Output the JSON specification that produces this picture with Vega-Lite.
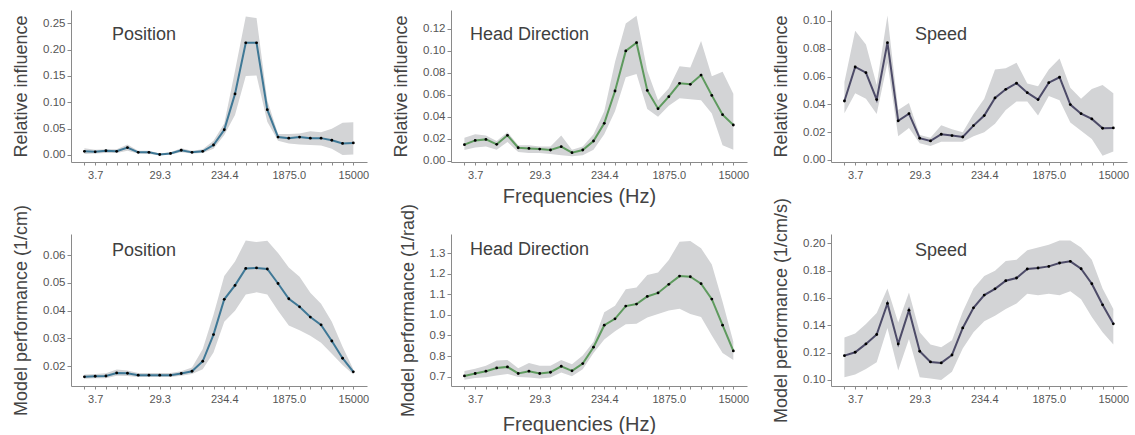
{
  "$schema": "https://vega.github.io/schema/vega-lite/v6.json",
  "padding": {"left": 12, "top": 10, "right": 0, "bottom": 0},
  "background": "white",
  "config": {
    "view": {"stroke": null},
    "font": "Liberation Sans",
    "axis": {"grid": false, "domainColor": "#8a8a8a", "tickColor": "#8a8a8a", "labelColor": "#555555", "labelFontSize": 11.5, "titleFontWeight": "normal", "titleColor": "#444444", "titleFontSize": 18, "tickSize": 4, "labelPadding": 2, "labelOverlap": false},
    "title": {"fontSize": 18, "fontWeight": "normal", "color": "#404040", "anchor": "start", "frame": "group", "offset": 0, "baseline": "alphabetic"}
  },
  "datasets": {
    "p1": [
      {"f": 2.589, "m": 0.007, "lo": 0.002, "hi": 0.013},
      {"f": 3.662109375, "m": 0.006, "lo": 0.003, "hi": 0.010},
      {"f": 5.179, "m": 0.008, "lo": 0.004, "hi": 0.011},
      {"f": 7.32421875, "m": 0.007, "lo": 0.004, "hi": 0.011},
      {"f": 10.358, "m": 0.014, "lo": 0.008, "hi": 0.020},
      {"f": 14.6484375, "m": 0.005, "lo": 0.003, "hi": 0.008},
      {"f": 20.716, "m": 0.005, "lo": 0.002, "hi": 0.008},
      {"f": 29.296875, "m": 0.001, "lo": 0.000, "hi": 0.003},
      {"f": 41.432, "m": 0.003, "lo": 0.001, "hi": 0.005},
      {"f": 58.59375, "m": 0.009, "lo": 0.005, "hi": 0.013},
      {"f": 82.864, "m": 0.005, "lo": 0.003, "hi": 0.008},
      {"f": 117.1875, "m": 0.007, "lo": 0.004, "hi": 0.011},
      {"f": 165.728, "m": 0.019, "lo": 0.012, "hi": 0.027},
      {"f": 234.375, "m": 0.048, "lo": 0.038, "hi": 0.060},
      {"f": 331.456, "m": 0.116, "lo": 0.076, "hi": 0.160},
      {"f": 468.75, "m": 0.213, "lo": 0.150, "hi": 0.263},
      {"f": 662.913, "m": 0.213, "lo": 0.151, "hi": 0.260},
      {"f": 937.5, "m": 0.086, "lo": 0.063, "hi": 0.104},
      {"f": 1325.825, "m": 0.034, "lo": 0.027, "hi": 0.040},
      {"f": 1875, "m": 0.032, "lo": 0.022, "hi": 0.040},
      {"f": 2651.65, "m": 0.034, "lo": 0.020, "hi": 0.041},
      {"f": 3750, "m": 0.032, "lo": 0.019, "hi": 0.045},
      {"f": 5303.301, "m": 0.032, "lo": 0.018, "hi": 0.043},
      {"f": 7500, "m": 0.028, "lo": 0.012, "hi": 0.050},
      {"f": 10606.602, "m": 0.022, "lo": 0.000, "hi": 0.061},
      {"f": 15000, "m": 0.023, "lo": 0.001, "hi": 0.062}
    ],
    "p2": [
      {"f": 2.589, "m": 0.0146, "lo": 0.0097, "hi": 0.021},
      {"f": 3.662109375, "m": 0.0185, "lo": 0.012, "hi": 0.024},
      {"f": 5.179, "m": 0.0194, "lo": 0.013, "hi": 0.023},
      {"f": 7.32421875, "m": 0.0149, "lo": 0.010, "hi": 0.018},
      {"f": 10.358, "m": 0.0231, "lo": 0.017, "hi": 0.026},
      {"f": 14.6484375, "m": 0.0118, "lo": 0.008, "hi": 0.014},
      {"f": 20.716, "m": 0.0112, "lo": 0.007, "hi": 0.014},
      {"f": 29.296875, "m": 0.0106, "lo": 0.007, "hi": 0.013},
      {"f": 41.432, "m": 0.0097, "lo": 0.006, "hi": 0.013},
      {"f": 58.59375, "m": 0.0128, "lo": 0.005, "hi": 0.023},
      {"f": 82.864, "m": 0.0073, "lo": 0.004, "hi": 0.010},
      {"f": 117.1875, "m": 0.0097, "lo": 0.005, "hi": 0.013},
      {"f": 165.728, "m": 0.0179, "lo": 0.010, "hi": 0.024},
      {"f": 234.375, "m": 0.034, "lo": 0.024, "hi": 0.045},
      {"f": 331.456, "m": 0.0635, "lo": 0.045, "hi": 0.090},
      {"f": 468.75, "m": 0.100, "lo": 0.076, "hi": 0.125},
      {"f": 662.913, "m": 0.1075, "lo": 0.079, "hi": 0.132},
      {"f": 937.5, "m": 0.064, "lo": 0.047, "hi": 0.082},
      {"f": 1325.825, "m": 0.0474, "lo": 0.040, "hi": 0.055},
      {"f": 1875, "m": 0.0583, "lo": 0.050, "hi": 0.066},
      {"f": 2651.65, "m": 0.0705, "lo": 0.057, "hi": 0.086},
      {"f": 3750, "m": 0.0696, "lo": 0.056, "hi": 0.085},
      {"f": 5303.301, "m": 0.078, "lo": 0.055, "hi": 0.109},
      {"f": 7500, "m": 0.0595, "lo": 0.043, "hi": 0.077},
      {"f": 10606.602, "m": 0.0419, "lo": 0.014, "hi": 0.081},
      {"f": 15000, "m": 0.0325, "lo": 0.010, "hi": 0.061}
    ],
    "p3": [
      {"f": 2.589, "m": 0.0424, "lo": 0.0336, "hi": 0.056},
      {"f": 3.662109375, "m": 0.0669, "lo": 0.048, "hi": 0.093},
      {"f": 5.179, "m": 0.0628, "lo": 0.044, "hi": 0.083},
      {"f": 7.32421875, "m": 0.0434, "lo": 0.033, "hi": 0.054},
      {"f": 10.358, "m": 0.0844, "lo": 0.070, "hi": 0.104},
      {"f": 14.6484375, "m": 0.0281, "lo": 0.017, "hi": 0.036},
      {"f": 20.716, "m": 0.0333, "lo": 0.023, "hi": 0.041},
      {"f": 29.296875, "m": 0.0156, "lo": 0.012, "hi": 0.018},
      {"f": 41.432, "m": 0.0137, "lo": 0.010, "hi": 0.016},
      {"f": 58.59375, "m": 0.0185, "lo": 0.013, "hi": 0.025},
      {"f": 82.864, "m": 0.0175, "lo": 0.013, "hi": 0.022},
      {"f": 117.1875, "m": 0.0165, "lo": 0.013, "hi": 0.020},
      {"f": 165.728, "m": 0.0247, "lo": 0.017, "hi": 0.033},
      {"f": 234.375, "m": 0.0319, "lo": 0.020, "hi": 0.044},
      {"f": 331.456, "m": 0.0446, "lo": 0.026, "hi": 0.065},
      {"f": 468.75, "m": 0.0508, "lo": 0.036, "hi": 0.066},
      {"f": 662.913, "m": 0.0552, "lo": 0.042, "hi": 0.070},
      {"f": 937.5, "m": 0.0484, "lo": 0.042, "hi": 0.055},
      {"f": 1325.825, "m": 0.0434, "lo": 0.032, "hi": 0.053},
      {"f": 1875, "m": 0.0556, "lo": 0.046, "hi": 0.065},
      {"f": 2651.65, "m": 0.0595, "lo": 0.043, "hi": 0.073},
      {"f": 3750, "m": 0.0398, "lo": 0.027, "hi": 0.052},
      {"f": 5303.301, "m": 0.0333, "lo": 0.021, "hi": 0.044},
      {"f": 7500, "m": 0.0295, "lo": 0.015, "hi": 0.051},
      {"f": 10606.602, "m": 0.0228, "lo": 0.003, "hi": 0.054},
      {"f": 15000, "m": 0.023, "lo": 0.006, "hi": 0.048}
    ],
    "p4": [
      {"f": 2.589, "m": 0.0162, "lo": 0.0155, "hi": 0.0170},
      {"f": 3.662109375, "m": 0.0164, "lo": 0.0157, "hi": 0.0172},
      {"f": 5.179, "m": 0.0165, "lo": 0.0157, "hi": 0.0175},
      {"f": 7.32421875, "m": 0.0176, "lo": 0.0166, "hi": 0.0188},
      {"f": 10.358, "m": 0.0175, "lo": 0.0165, "hi": 0.0185},
      {"f": 14.6484375, "m": 0.0168, "lo": 0.0161, "hi": 0.0176},
      {"f": 20.716, "m": 0.0168, "lo": 0.0161, "hi": 0.0176},
      {"f": 29.296875, "m": 0.0168, "lo": 0.0161, "hi": 0.0176},
      {"f": 41.432, "m": 0.0168, "lo": 0.0161, "hi": 0.0176},
      {"f": 58.59375, "m": 0.0174, "lo": 0.0166, "hi": 0.0182},
      {"f": 82.864, "m": 0.0182, "lo": 0.0172, "hi": 0.0196},
      {"f": 117.1875, "m": 0.0218, "lo": 0.0189, "hi": 0.0262},
      {"f": 165.728, "m": 0.0314, "lo": 0.0250, "hi": 0.0385},
      {"f": 234.375, "m": 0.0441, "lo": 0.0360, "hi": 0.0525},
      {"f": 331.456, "m": 0.0491, "lo": 0.0400, "hi": 0.0577},
      {"f": 468.75, "m": 0.0552, "lo": 0.0458, "hi": 0.0653},
      {"f": 662.913, "m": 0.0554, "lo": 0.0466, "hi": 0.0647},
      {"f": 937.5, "m": 0.0550, "lo": 0.0458, "hi": 0.0652},
      {"f": 1325.825, "m": 0.0498, "lo": 0.0400, "hi": 0.0608},
      {"f": 1875, "m": 0.0443, "lo": 0.0347, "hi": 0.0555},
      {"f": 2651.65, "m": 0.0414, "lo": 0.0330, "hi": 0.0522},
      {"f": 3750, "m": 0.0377, "lo": 0.0310, "hi": 0.0465},
      {"f": 5303.301, "m": 0.0349, "lo": 0.0285, "hi": 0.0425},
      {"f": 7500, "m": 0.0291, "lo": 0.0245, "hi": 0.0360},
      {"f": 10606.602, "m": 0.0229, "lo": 0.0205, "hi": 0.0270},
      {"f": 15000, "m": 0.0180, "lo": 0.0170, "hi": 0.0189}
    ],
    "p5": [
      {"f": 2.589, "m": 0.703, "lo": 0.685, "hi": 0.727},
      {"f": 3.662109375, "m": 0.715, "lo": 0.693, "hi": 0.738},
      {"f": 5.179, "m": 0.726, "lo": 0.697, "hi": 0.752},
      {"f": 7.32421875, "m": 0.742, "lo": 0.705, "hi": 0.778},
      {"f": 10.358, "m": 0.747, "lo": 0.713, "hi": 0.781},
      {"f": 14.6484375, "m": 0.715, "lo": 0.698, "hi": 0.740},
      {"f": 20.716, "m": 0.726, "lo": 0.695, "hi": 0.766},
      {"f": 29.296875, "m": 0.715, "lo": 0.690, "hi": 0.752},
      {"f": 41.432, "m": 0.721, "lo": 0.695, "hi": 0.752},
      {"f": 58.59375, "m": 0.750, "lo": 0.720, "hi": 0.780},
      {"f": 82.864, "m": 0.728, "lo": 0.702, "hi": 0.760},
      {"f": 117.1875, "m": 0.763, "lo": 0.735, "hi": 0.803},
      {"f": 165.728, "m": 0.843, "lo": 0.815, "hi": 0.870},
      {"f": 234.375, "m": 0.950, "lo": 0.880, "hi": 1.013},
      {"f": 331.456, "m": 0.981, "lo": 0.920, "hi": 1.045},
      {"f": 468.75, "m": 1.043, "lo": 0.955, "hi": 1.125},
      {"f": 662.913, "m": 1.053, "lo": 0.957, "hi": 1.133},
      {"f": 937.5, "m": 1.090, "lo": 0.987, "hi": 1.194},
      {"f": 1325.825, "m": 1.107, "lo": 1.005, "hi": 1.207},
      {"f": 1875, "m": 1.149, "lo": 1.022, "hi": 1.268},
      {"f": 2651.65, "m": 1.189, "lo": 1.030, "hi": 1.356},
      {"f": 3750, "m": 1.186, "lo": 1.005, "hi": 1.360},
      {"f": 5303.301, "m": 1.152, "lo": 0.990, "hi": 1.325},
      {"f": 7500, "m": 1.077, "lo": 0.900, "hi": 1.245},
      {"f": 10606.602, "m": 0.950, "lo": 0.815, "hi": 1.064},
      {"f": 15000, "m": 0.825, "lo": 0.780, "hi": 0.870}
    ],
    "p6": [
      {"f": 2.589, "m": 0.1178, "lo": 0.102, "hi": 0.131},
      {"f": 3.662109375, "m": 0.1203, "lo": 0.104, "hi": 0.134},
      {"f": 5.179, "m": 0.1264, "lo": 0.108, "hi": 0.141},
      {"f": 7.32421875, "m": 0.1333, "lo": 0.113, "hi": 0.149},
      {"f": 10.358, "m": 0.156, "lo": 0.138, "hi": 0.167},
      {"f": 14.6484375, "m": 0.1264, "lo": 0.107, "hi": 0.142},
      {"f": 20.716, "m": 0.1511, "lo": 0.130, "hi": 0.164},
      {"f": 29.296875, "m": 0.121, "lo": 0.102, "hi": 0.135},
      {"f": 41.432, "m": 0.1132, "lo": 0.101, "hi": 0.126},
      {"f": 58.59375, "m": 0.1125, "lo": 0.100, "hi": 0.124},
      {"f": 82.864, "m": 0.1183, "lo": 0.106, "hi": 0.129},
      {"f": 117.1875, "m": 0.1381, "lo": 0.123, "hi": 0.150},
      {"f": 165.728, "m": 0.1528, "lo": 0.135, "hi": 0.167},
      {"f": 234.375, "m": 0.1621, "lo": 0.143, "hi": 0.176},
      {"f": 331.456, "m": 0.1667, "lo": 0.147, "hi": 0.180},
      {"f": 468.75, "m": 0.1726, "lo": 0.152, "hi": 0.187},
      {"f": 662.913, "m": 0.1746, "lo": 0.156, "hi": 0.188},
      {"f": 937.5, "m": 0.1812, "lo": 0.163, "hi": 0.195},
      {"f": 1325.825, "m": 0.1819, "lo": 0.162, "hi": 0.197},
      {"f": 1875, "m": 0.1831, "lo": 0.163, "hi": 0.199},
      {"f": 2651.65, "m": 0.1856, "lo": 0.162, "hi": 0.202},
      {"f": 3750, "m": 0.1868, "lo": 0.165, "hi": 0.202},
      {"f": 5303.301, "m": 0.1814, "lo": 0.159, "hi": 0.197},
      {"f": 7500, "m": 0.1704, "lo": 0.146, "hi": 0.188},
      {"f": 10606.602, "m": 0.155, "lo": 0.135, "hi": 0.167},
      {"f": 15000, "m": 0.1411, "lo": 0.126, "hi": 0.152}
    ]
  },
  "columns": 3,
  "spacing": {"row": 72, "column": 84},
  "bounds": "flush",
  "concat": [
    {
      "width": 296, "height": 152,
      "data": {"name": "p1"},
      "title": {"text": "Position", "dx": 41, "dy": 37.5},
      "encoding": {"x": {"field": "f", "type": "quantitative", "scale": {"type": "log", "domain": [1.68, 23300], "nice": false},
        "axis": {"title": null, "values": [2.589, 3.662109375, 5.179, 7.32421875, 10.358, 14.6484375, 20.716, 29.296875, 41.432, 58.59375, 82.864, 117.1875, 165.728, 234.375, 331.456, 468.75, 662.913, 937.5, 1325.825, 1875, 2651.65, 3750, 5303.301, 7500, 10606.602, 15000],
          "labelExpr": "datum.value >= 15000 ? '15000' : (abs(log(15000/datum.value)/log(8) - round(log(15000/datum.value)/log(8))) < 0.001 ? format(datum.value, '.1f') : '')",
          "labelFlush": false, "tickSize": 3, "labelFontSize": 11, "labelPadding": 4}}},
      "layer": [
        {"mark": {"type": "area", "color": "#d3d4d6", "opacity": 1},
         "encoding": {"y": {"field": "lo", "type": "quantitative", "title": "Relative influence", "scale": {"domain": [-0.0133, 0.2753], "nice": false, "zero": false},
           "axis": {"values": [0, 0.05, 0.1, 0.15, 0.2, 0.25], "format": ".2f", "titlePadding": 12}}, "y2": {"field": "hi"}}},
        {"mark": {"type": "line", "color": "#3f7896", "strokeWidth": 2},
         "encoding": {"y": {"field": "m", "type": "quantitative", "title": "Relative influence", "scale": {"domain": [-0.0133, 0.2753], "nice": false, "zero": false},
           "axis": {"values": [0, 0.05, 0.1, 0.15, 0.2, 0.25], "format": ".2f", "titlePadding": 12}}}},
        {"mark": {"type": "point", "filled": true, "color": "black", "size": 8, "opacity": 1},
         "encoding": {"y": {"field": "m", "type": "quantitative", "title": "Relative influence", "scale": {"domain": [-0.0133, 0.2753], "nice": false, "zero": false},
           "axis": {"values": [0, 0.05, 0.1, 0.15, 0.2, 0.25], "format": ".2f", "titlePadding": 12}}}}
      ]
    },
    {
      "width": 296, "height": 152,
      "data": {"name": "p2"},
      "title": {"text": "Head Direction", "dx": 19, "dy": 37.5},
      "encoding": {"x": {"field": "f", "type": "quantitative", "scale": {"type": "log", "domain": [1.68, 23300], "nice": false},
        "axis": {"title": "Frequencies (Hz)", "titleFontSize": 20, "titleX": 128, "titleY": 34, "titleBaseline": "middle", "values": [2.589, 3.662109375, 5.179, 7.32421875, 10.358, 14.6484375, 20.716, 29.296875, 41.432, 58.59375, 82.864, 117.1875, 165.728, 234.375, 331.456, 468.75, 662.913, 937.5, 1325.825, 1875, 2651.65, 3750, 5303.301, 7500, 10606.602, 15000],
          "labelExpr": "datum.value >= 15000 ? '15000' : (abs(log(15000/datum.value)/log(8) - round(log(15000/datum.value)/log(8))) < 0.001 ? format(datum.value, '.1f') : '')",
          "labelFlush": false, "tickSize": 3, "labelFontSize": 11, "labelPadding": 4}}},
      "layer": [
        {"mark": {"type": "area", "color": "#d3d4d6", "opacity": 1},
         "encoding": {"y": {"field": "lo", "type": "quantitative", "title": "Relative influence", "scale": {"domain": [-0.0012, 0.1373], "nice": false, "zero": false},
           "axis": {"values": [0, 0.02, 0.04, 0.06, 0.08, 0.1, 0.12], "format": ".2f", "titlePadding": 12}}, "y2": {"field": "hi"}}},
        {"mark": {"type": "line", "color": "#5e9a5e", "strokeWidth": 2},
         "encoding": {"y": {"field": "m", "type": "quantitative", "title": "Relative influence", "scale": {"domain": [-0.0012, 0.1373], "nice": false, "zero": false},
           "axis": {"values": [0, 0.02, 0.04, 0.06, 0.08, 0.1, 0.12], "format": ".2f", "titlePadding": 12}}}},
        {"mark": {"type": "point", "filled": true, "color": "black", "size": 8, "opacity": 1},
         "encoding": {"y": {"field": "m", "type": "quantitative", "title": "Relative influence", "scale": {"domain": [-0.0012, 0.1373], "nice": false, "zero": false},
           "axis": {"values": [0, 0.02, 0.04, 0.06, 0.08, 0.1, 0.12], "format": ".2f", "titlePadding": 12}}}}
      ]
    },
    {
      "width": 296, "height": 152,
      "data": {"name": "p3"},
      "title": {"text": "Speed", "dx": 84, "dy": 37.5},
      "encoding": {"x": {"field": "f", "type": "quantitative", "scale": {"type": "log", "domain": [1.68, 23300], "nice": false},
        "axis": {"title": null, "values": [2.589, 3.662109375, 5.179, 7.32421875, 10.358, 14.6484375, 20.716, 29.296875, 41.432, 58.59375, 82.864, 117.1875, 165.728, 234.375, 331.456, 468.75, 662.913, 937.5, 1325.825, 1875, 2651.65, 3750, 5303.301, 7500, 10606.602, 15000],
          "labelExpr": "datum.value >= 15000 ? '15000' : (abs(log(15000/datum.value)/log(8) - round(log(15000/datum.value)/log(8))) < 0.001 ? format(datum.value, '.1f') : '')",
          "labelFlush": false, "tickSize": 3, "labelFontSize": 11, "labelPadding": 4}}},
      "layer": [
        {"mark": {"type": "area", "color": "#d3d4d6", "opacity": 1},
         "encoding": {"y": {"field": "lo", "type": "quantitative", "title": "Relative influence", "scale": {"domain": [-0.0015, 0.1079], "nice": false, "zero": false},
           "axis": {"values": [0, 0.02, 0.04, 0.06, 0.08, 0.1], "format": ".2f", "titlePadding": 12}}, "y2": {"field": "hi"}}},
        {"mark": {"type": "line", "color": "#4d4b68", "strokeWidth": 2},
         "encoding": {"y": {"field": "m", "type": "quantitative", "title": "Relative influence", "scale": {"domain": [-0.0015, 0.1079], "nice": false, "zero": false},
           "axis": {"values": [0, 0.02, 0.04, 0.06, 0.08, 0.1], "format": ".2f", "titlePadding": 12}}}},
        {"mark": {"type": "point", "filled": true, "color": "black", "size": 8, "opacity": 1},
         "encoding": {"y": {"field": "m", "type": "quantitative", "title": "Relative influence", "scale": {"domain": [-0.0015, 0.1079], "nice": false, "zero": false},
           "axis": {"values": [0, 0.02, 0.04, 0.06, 0.08, 0.1], "format": ".2f", "titlePadding": 12}}}}
      ]
    },
    {
      "width": 296, "height": 152,
      "data": {"name": "p4"},
      "title": {"text": "Position", "dx": 41, "dy": 59.5},
      "encoding": {"x": {"field": "f", "type": "quantitative", "scale": {"type": "log", "domain": [1.68, 23300], "nice": false},
        "axis": {"title": null, "values": [2.589, 3.662109375, 5.179, 7.32421875, 10.358, 14.6484375, 20.716, 29.296875, 41.432, 58.59375, 82.864, 117.1875, 165.728, 234.375, 331.456, 468.75, 662.913, 937.5, 1325.825, 1875, 2651.65, 3750, 5303.301, 7500, 10606.602, 15000],
          "labelExpr": "datum.value >= 15000 ? '15000' : (abs(log(15000/datum.value)/log(8) - round(log(15000/datum.value)/log(8))) < 0.001 ? format(datum.value, '.1f') : '')",
          "labelFlush": false, "tickSize": 3, "labelFontSize": 11, "labelPadding": 4}}},
      "layer": [
        {"mark": {"type": "area", "color": "#d3d4d6", "opacity": 1},
         "encoding": {"y": {"field": "lo", "type": "quantitative", "title": "Model performance (1/cm)", "scale": {"domain": [0.0129, 0.0676], "nice": false, "zero": false},
           "axis": {"values": [0.02, 0.03, 0.04, 0.05, 0.06], "format": ".2f", "titlePadding": 12}}, "y2": {"field": "hi"}}},
        {"mark": {"type": "line", "color": "#3f7896", "strokeWidth": 2},
         "encoding": {"y": {"field": "m", "type": "quantitative", "title": "Model performance (1/cm)", "scale": {"domain": [0.0129, 0.0676], "nice": false, "zero": false},
           "axis": {"values": [0.02, 0.03, 0.04, 0.05, 0.06], "format": ".2f", "titlePadding": 12}}}},
        {"mark": {"type": "point", "filled": true, "color": "black", "size": 8, "opacity": 1},
         "encoding": {"y": {"field": "m", "type": "quantitative", "title": "Model performance (1/cm)", "scale": {"domain": [0.0129, 0.0676], "nice": false, "zero": false},
           "axis": {"values": [0.02, 0.03, 0.04, 0.05, 0.06], "format": ".2f", "titlePadding": 12}}}}
      ]
    },
    {
      "width": 296, "height": 152,
      "data": {"name": "p5"},
      "title": {"text": "Head Direction", "dx": 19, "dy": 59.5},
      "encoding": {"x": {"field": "f", "type": "quantitative", "scale": {"type": "log", "domain": [1.68, 23300], "nice": false},
        "axis": {"title": "Frequencies (Hz)", "titleFontSize": 20, "titleX": 128, "titleY": 38, "titleBaseline": "middle", "values": [2.589, 3.662109375, 5.179, 7.32421875, 10.358, 14.6484375, 20.716, 29.296875, 41.432, 58.59375, 82.864, 117.1875, 165.728, 234.375, 331.456, 468.75, 662.913, 937.5, 1325.825, 1875, 2651.65, 3750, 5303.301, 7500, 10606.602, 15000],
          "labelExpr": "datum.value >= 15000 ? '15000' : (abs(log(15000/datum.value)/log(8) - round(log(15000/datum.value)/log(8))) < 0.001 ? format(datum.value, '.1f') : '')",
          "labelFlush": false, "tickSize": 3, "labelFontSize": 11, "labelPadding": 4}}},
      "layer": [
        {"mark": {"type": "area", "color": "#d3d4d6", "opacity": 1},
         "encoding": {"y": {"field": "lo", "type": "quantitative", "title": "Model performance (1/rad)", "scale": {"domain": [0.654, 1.394], "nice": false, "zero": false},
           "axis": {"values": [0.7, 0.8, 0.9, 1.0, 1.1, 1.2, 1.3], "format": ".1f", "titlePadding": 12}}, "y2": {"field": "hi"}}},
        {"mark": {"type": "line", "color": "#5e9a5e", "strokeWidth": 2},
         "encoding": {"y": {"field": "m", "type": "quantitative", "title": "Model performance (1/rad)", "scale": {"domain": [0.654, 1.394], "nice": false, "zero": false},
           "axis": {"values": [0.7, 0.8, 0.9, 1.0, 1.1, 1.2, 1.3], "format": ".1f", "titlePadding": 12}}}},
        {"mark": {"type": "point", "filled": true, "color": "black", "size": 8, "opacity": 1},
         "encoding": {"y": {"field": "m", "type": "quantitative", "title": "Model performance (1/rad)", "scale": {"domain": [0.654, 1.394], "nice": false, "zero": false},
           "axis": {"values": [0.7, 0.8, 0.9, 1.0, 1.1, 1.2, 1.3], "format": ".1f", "titlePadding": 12}}}}
      ]
    },
    {
      "width": 296, "height": 152,
      "data": {"name": "p6"},
      "title": {"text": "Speed", "dx": 84, "dy": 66.5},
      "encoding": {"x": {"field": "f", "type": "quantitative", "scale": {"type": "log", "domain": [1.68, 23300], "nice": false},
        "axis": {"title": null, "values": [2.589, 3.662109375, 5.179, 7.32421875, 10.358, 14.6484375, 20.716, 29.296875, 41.432, 58.59375, 82.864, 117.1875, 165.728, 234.375, 331.456, 468.75, 662.913, 937.5, 1325.825, 1875, 2651.65, 3750, 5303.301, 7500, 10606.602, 15000],
          "labelExpr": "datum.value >= 15000 ? '15000' : (abs(log(15000/datum.value)/log(8) - round(log(15000/datum.value)/log(8))) < 0.001 ? format(datum.value, '.1f') : '')",
          "labelFlush": false, "tickSize": 3, "labelFontSize": 11, "labelPadding": 4}}},
      "layer": [
        {"mark": {"type": "area", "color": "#d3d4d6", "opacity": 1},
         "encoding": {"y": {"field": "lo", "type": "quantitative", "title": "Model performance (1/cm/s)", "scale": {"domain": [0.0956, 0.2068], "nice": false, "zero": false},
           "axis": {"values": [0.1, 0.12, 0.14, 0.16, 0.18, 0.2], "format": ".2f", "titlePadding": 12}}, "y2": {"field": "hi"}}},
        {"mark": {"type": "line", "color": "#4d4b68", "strokeWidth": 2},
         "encoding": {"y": {"field": "m", "type": "quantitative", "title": "Model performance (1/cm/s)", "scale": {"domain": [0.0956, 0.2068], "nice": false, "zero": false},
           "axis": {"values": [0.1, 0.12, 0.14, 0.16, 0.18, 0.2], "format": ".2f", "titlePadding": 12}}}},
        {"mark": {"type": "point", "filled": true, "color": "black", "size": 8, "opacity": 1},
         "encoding": {"y": {"field": "m", "type": "quantitative", "title": "Model performance (1/cm/s)", "scale": {"domain": [0.0956, 0.2068], "nice": false, "zero": false},
           "axis": {"values": [0.1, 0.12, 0.14, 0.16, 0.18, 0.2], "format": ".2f", "titlePadding": 12}}}}
      ]
    }
  ]
}
